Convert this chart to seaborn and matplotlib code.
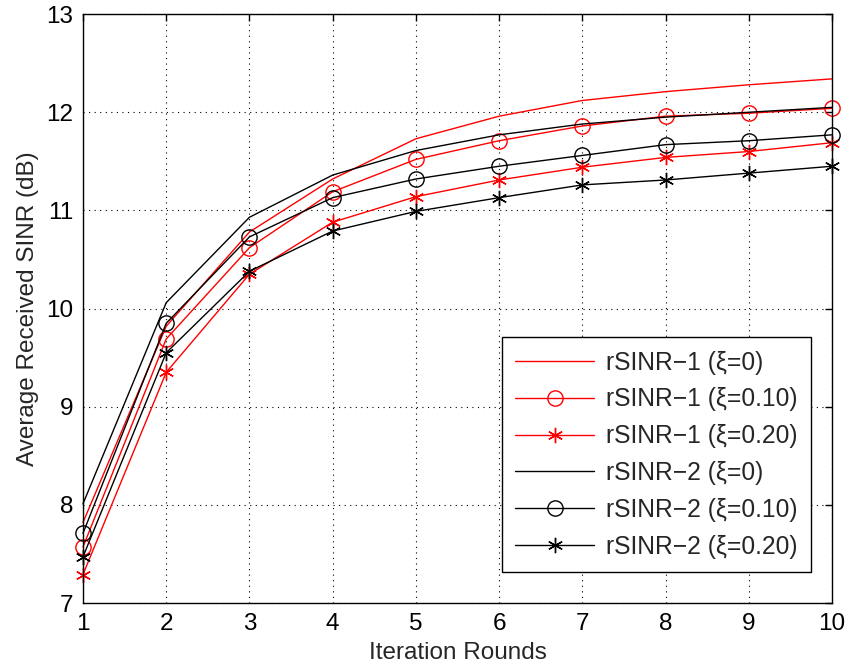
import matplotlib
matplotlib.use("Agg")
import matplotlib.pyplot as plt
import seaborn as sns
import pandas as pd

rounds = [1, 2, 3, 4, 5, 6, 7, 8, 9, 10]
r1_xi0 = [7.82, 9.82, 10.78, 11.32, 11.73, 11.96, 12.12, 12.21, 12.28, 12.34]
r1_xi10 = [7.57, 9.69, 10.62, 11.19, 11.52, 11.71, 11.86, 11.96, 11.99, 12.04]
r1_xi20 = [7.29, 9.35, 10.35, 10.88, 11.14, 11.31, 11.44, 11.54, 11.60, 11.69]
r2_xi0 = [8.01, 10.06, 10.93, 11.36, 11.61, 11.77, 11.88, 11.95, 12.00, 12.05]
r2_xi10 = [7.71, 9.85, 10.73, 11.13, 11.32, 11.45, 11.56, 11.67, 11.71, 11.77]
r2_xi20 = [7.47, 9.55, 10.38, 10.79, 10.99, 11.13, 11.26, 11.31, 11.38, 11.45]

labels = ["rSINR\u22121 (\u03be=0)", "rSINR\u22121 (\u03be=0.10)", "rSINR\u22121 (\u03be=0.20)",
          "rSINR\u22122 (\u03be=0)", "rSINR\u22122 (\u03be=0.10)", "rSINR\u22122 (\u03be=0.20)"]
series = [r1_xi0, r1_xi10, r1_xi20, r2_xi0, r2_xi10, r2_xi20]
colors = ["red", "red", "red", "black", "black", "black"]
markers = [None, "o", (6, 2, 0), None, "o", (6, 2, 0)]

sns.set_style("white")
plt.rcParams["font.family"] = ["Liberation Sans", "DejaVu Sans"]

fig = plt.figure(figsize=(8.5, 6.71), dpi=100)
ax = fig.add_axes([0.0976, 0.1013, 0.8814, 0.8777])

for lab, vals, c, m in zip(labels, series, colors, markers):
    df = pd.DataFrame({"x": rounds, "y": vals})
    kw = dict(color=c, linewidth=1.0, label=lab)
    if m is not None:
        kw.update(marker=m, markersize=11, markerfacecolor="none",
                  markeredgecolor=c, markeredgewidth=1.0)
    sns.lineplot(data=df, x="x", y="y", ax=ax, **kw)

for ln in ax.get_lines():
    ln.set_clip_on(False)

ax.set_xlim(1, 10)
ax.set_ylim(7, 13)
ax.set_xticks(rounds)
ax.set_yticks([7, 8, 9, 10, 11, 12, 13])
ax.tick_params(direction="in", top=True, right=True, length=5, width=1,
               labelsize=17.5, colors="black", pad=7)
ax.grid(True, linestyle=(0, (1, 4)), color="black", linewidth=0.8)
for s in ax.spines.values():
    s.set_color("black")
    s.set_linewidth(1.0)
    s.set_zorder(5)
ax.set_xlabel("Iteration Rounds", fontsize=17.5, labelpad=5)
ax.set_ylabel("Average Received SINR (dB)", fontsize=17.5, labelpad=5)

leg = ax.legend(loc="lower right", bbox_to_anchor=(0.972, 0.0526),
                fontsize=17.7, frameon=True, fancybox=False,
                edgecolor="black", framealpha=1, handlelength=3.2,
                borderaxespad=0, labelspacing=0.52, borderpad=0.55,
                handletextpad=0.5)
leg.get_frame().set_linewidth(1.0)
leg.set_zorder(10)

fig.savefig("out.png", dpi=100)
